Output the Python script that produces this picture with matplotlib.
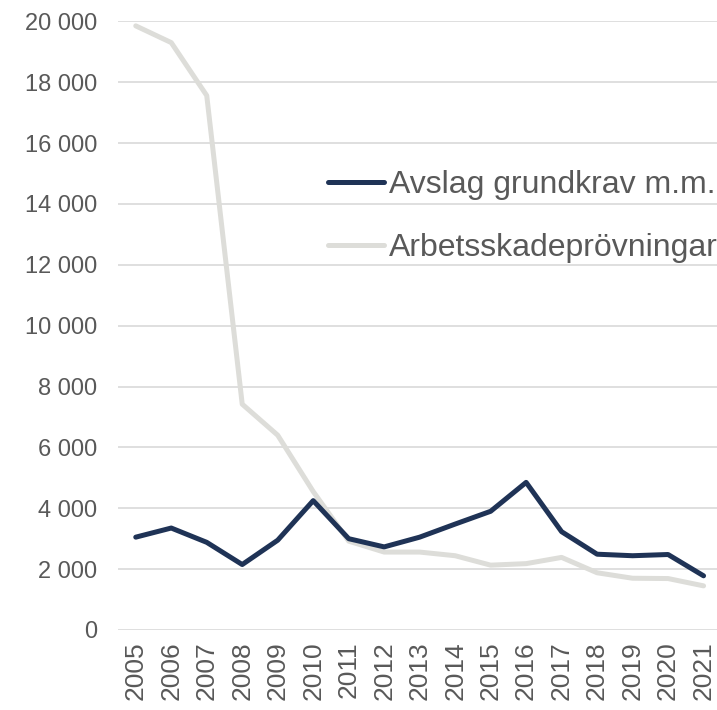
import numpy as np
import matplotlib.pyplot as plt

plt.rcParams['font.family'] = ['Liberation Sans', 'DejaVu Sans']

years = [str(y) for y in range(2005, 2022)]
avslag = [3050, 3350, 2880, 2150, 2950, 4250, 3000, 2730, 3050, 3480, 3900,
          4850, 3230, 2490, 2440, 2480, 1780]
arbetsskada = [19850, 19300, 17560, 7420, 6400, 4550, 2920, 2560, 2560, 2440,
               2130, 2180, 2385, 1880, 1700, 1690, 1450]
series_names = ['Avslag grundkrav m.m.', 'Arbetsskadeprövningar']

fig = plt.figure(figsize=(7.17, 7.10), dpi=100)
ax = fig.add_axes([0.1646, 0.1127, 1.006 - 0.1646, 0.970 - 0.1127])

x = np.arange(len(years))
ax.plot(x, avslag, color='#1F3356', lw=3.6, label=series_names[0], zorder=3,
        solid_capstyle='round', solid_joinstyle='round')
ax.plot(x, arbetsskada, color='#DDDDD9', lw=3.6, label=series_names[1], zorder=2,
        solid_capstyle='round', solid_joinstyle='round')

ax.set_xlim(-0.5, len(years) - 0.5)
ax.set_ylim(0, 20000)
ax.set_yticks(range(0, 20001, 2000))
ax.set_yticklabels([f'{v:,}'.replace(',', ' ') for v in range(0, 20001, 2000)])
ax.set_xticks(x)
ax.set_xticklabels(years, rotation=90)

ax.grid(axis='y', color='#D9D9D9', lw=1.2, zorder=0)
ax.set_axisbelow(True)
for s in ax.spines.values():
    s.set_visible(False)
ax.tick_params(axis='both', length=0, colors='#595959')
ax.tick_params(axis='y', pad=15, labelsize=17)
ax.tick_params(axis='x', pad=8, labelsize=19)

leg = ax.legend(loc='upper left', bbox_to_anchor=(0.348, 0.755), frameon=False,
                fontsize=23, handlelength=1.75, handletextpad=0.15,
                labelspacing=1.02, borderpad=0, borderaxespad=0)
for t in leg.get_texts():
    t.set_color('#595959')

fig.savefig('out.png', dpi=100)
